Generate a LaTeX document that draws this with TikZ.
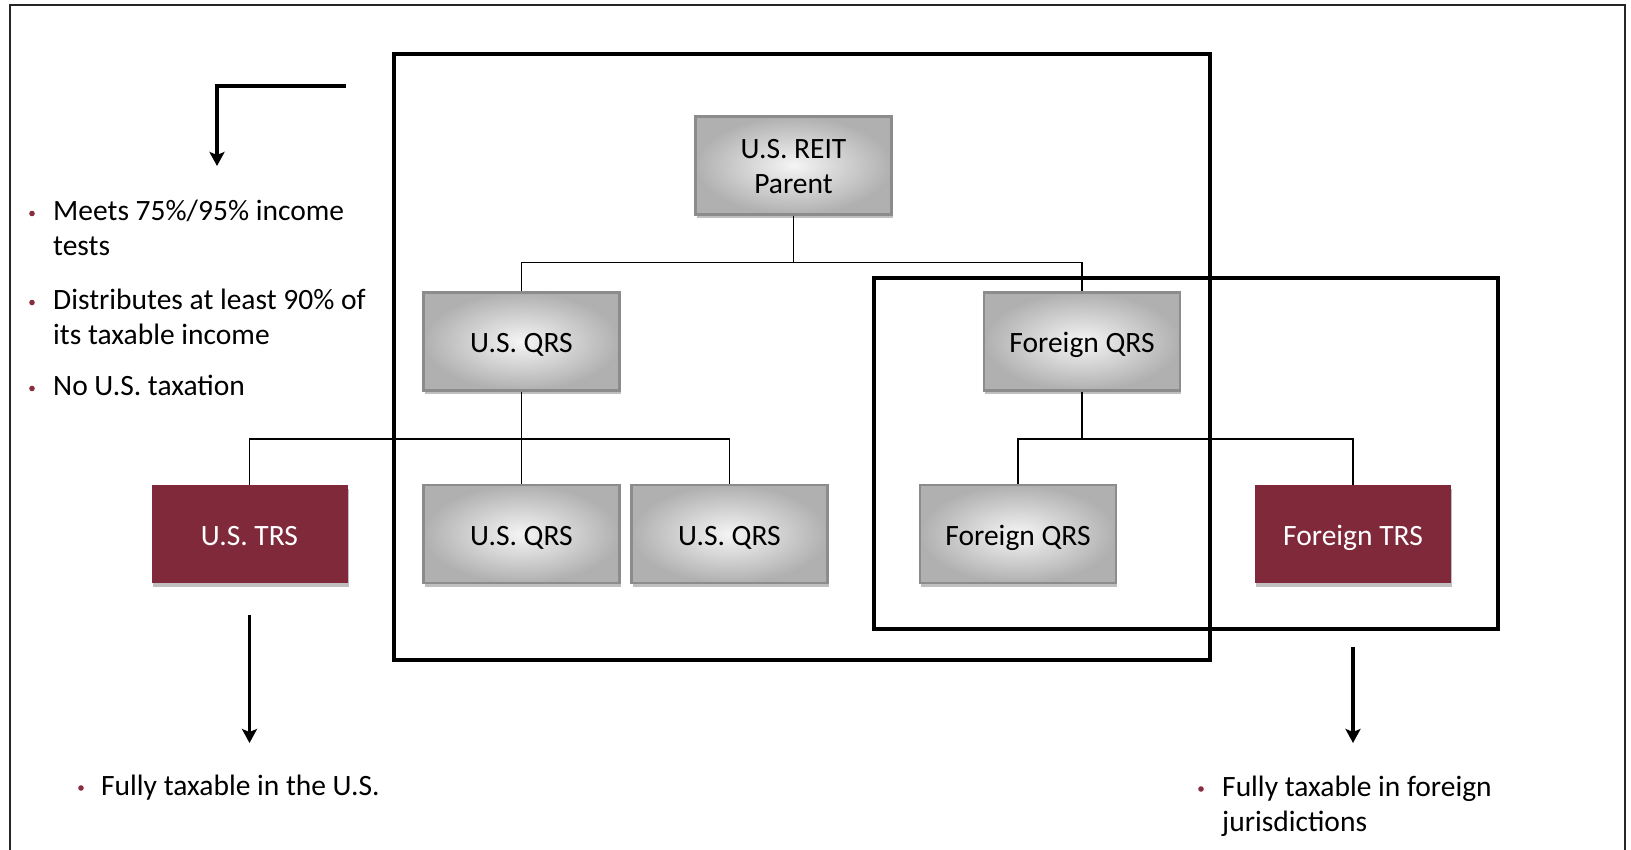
\documentclass[tikz,border=0pt]{standalone}
\usepackage{fontspec}
\setmainfont{Carlito}
\usetikzlibrary{shadows,arrows.meta}
\definecolor{trsred}{RGB}{127,41,58}
\definecolor{bulletred}{RGB}{135,45,62}
\definecolor{boxedge}{RGB}{140,140,140}
\begin{document}
\begin{tikzpicture}[x=1pt,y=-1pt,
  txt/.style={font=\fontsize{29.5}{35}\selectfont, inner sep=0pt, anchor=base west},
  entity/.style={minimum width=196pt, minimum height=98pt, inner sep=0pt,
    font=\fontsize{29.5}{35}\selectfont, align=center,
    drop shadow={shadow xshift=1pt, shadow yshift=-3.5pt, opacity=.25, fill=black}},
  oneline/.style={text height=25pt, text depth=3pt},
  qrsbox/.style={entity, draw=boxedge, line width=2.5pt,
    inner color=gray!8, outer color=gray!62, text=black},
  trsbox/.style={entity, oneline, fill=trsred, text=white},
  bigbox/.style={draw=black, line width=4pt},
  link/.style={draw=black, line width=1.5pt},
  bigarrow/.style={draw=black, line width=3.5pt,
    -{Stealth[length=14pt,width=15pt,inset=3pt]}},
  dot/.style={fill=bulletred}
]
\useasboundingbox (0,0) rectangle (1631,850);
% outer frame
\draw[line width=2pt, black!85] (10,853) -- (10,5) -- (1625,5) -- (1625,853);

% jurisdiction boxes
\draw[bigbox] (394,54) rectangle (1210,660);
\draw[bigbox] (874,278) rectangle (1498,629);

% entities
\node[qrsbox] (parent) at (793.5,165.5) {\rule{0pt}{22pt}U.S. REIT\\Parent};
\node[qrsbox, oneline] (usqrs) at (521.5,341.5) {U.S. QRS};
\node[qrsbox, oneline] (fqrs) at (1082,341.5) {Foreign QRS};
\node[trsbox] (ustrs) at (249.5,534) {U.S. TRS};
\node[qrsbox, oneline] (usqrsa) at (521.5,534) {U.S. QRS};
\node[qrsbox, oneline] (usqrsb) at (729.5,534) {U.S. QRS};
\node[qrsbox, oneline] (fqrsa) at (1018,534) {Foreign QRS};
\node[trsbox] (ftrs) at (1353,534) {Foreign TRS};

% connectors
\draw[link] (parent.south) -- ++(0,47) -| (usqrs.north);
\draw[link] (parent.south) -- ++(0,47) -| (fqrs.north);
\draw[link] (usqrs.south) -- ++(0,47) -| (ustrs.north);
\draw[link] (usqrs.south) -- (usqrsa.north);
\draw[link] (usqrs.south) -- ++(0,47) -| (usqrsb.north);
\draw[link] (fqrs.south) -- ++(0,47) -| (fqrsa.north);
\draw[link] (fqrs.south) -- ++(0,47) -| (ftrs.north);

% arrows
\coordinate (a1s) at (346,86);
\coordinate (a1e) at (217,166);
\draw[bigarrow] (a1s) -| (a1e);
\coordinate (a2s) at (249.5,615);
\coordinate (a2e) at (249.5,743);
\draw[bigarrow] (a2s) -- (a2e);
\coordinate (a3s) at (1353,647);
\coordinate (a3e) at (1353,743);
\draw[bigarrow] (a3s) -- (a3e);

% REIT bullets
\fill[dot] (32,213.5) circle (2.8pt);
\node[txt] (r1a) at (53,220.5) {Meets 75\%/95\% income};
\node[txt] (r1b) at (53,255.5) {tests};
\fill[dot] (32,302.5) circle (2.8pt);
\node[txt] (r2a) at (53,309.5) {Distributes at least 90\% of};
\node[txt] (r2b) at (53,344.5) {its taxable income};
\fill[dot] (32,388.5) circle (2.8pt);
\node[txt] (r3a) at (53,395.5) {No U.S. taxation};

% TRS bullets
\fill[dot] (81,788) circle (2.8pt);
\node[txt] (t1) at (101,795) {Fully taxable in the U.S.};
\fill[dot] (1201,789) circle (2.8pt);
\node[txt] (t2a) at (1222,796) {Fully taxable in foreign};
\node[txt] (t2b) at (1222,831) {jurisdictions};
\end{tikzpicture}
\end{document}
